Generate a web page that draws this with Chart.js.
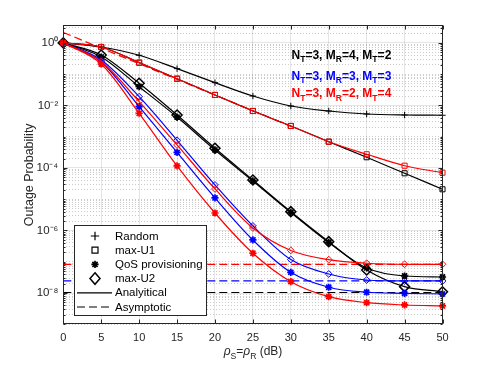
<!DOCTYPE html>
<html><head><meta charset="utf-8">
<script src="https://cdn.jsdelivr.net/npm/chart.js@4.4.0/dist/chart.umd.min.js"></script>
<style>html,body{margin:0;padding:0;background:#fff}canvas{display:block}</style>
</head><body>
<canvas id="c" width="491" height="365"></canvas>
<script>
// ---- data (SNR in dB) ----
const snr = [0, 5, 10, 15, 20, 25, 30, 35, 40, 45, 50];
const xTickVals = [0, 5, 10, 15, 20, 25, 30, 35, 40, 45, 50];
const yDecades = [0, -2, -4, -6, -8];
const yTickLabels = ['10\u2070', '10\u207B\u00B2', '10\u207B\u2074', '10\u207B\u2076', '10\u207B\u2078'];

// Random (all configurations coincide)
const randomSel = [1, 0.739, 0.401, 0.150, 0.0534, 0.0200, 0.00959, 0.00664, 0.00532, 0.00494, 0.00484];
// config A: N_T=3, M_R=4, M_T=2 (black)
const maxU1_A = [1, 0.739, 0.233, 0.0716, 0.0216, 0.00664, 0.00220, 6.92e-4, 2.20e-4, 6.76e-5, 2.08e-5];
const qos_A   = [1, 0.354, 0.0397, 0.00424, 3.76e-4, 3.84e-5, 3.77e-6, 4.14e-7, 6.33e-8, 3.51e-8, 3.26e-8];
const maxU2_A = [1, 0.410, 0.0511, 0.00494, 4.26e-4, 4.13e-5, 4.00e-6, 4.39e-7, 5.46e-8, 1.60e-8, 1.10e-8];
// config B: N_T=3, M_R=3, M_T=3 (blue)
const qos_B   = [1, 0.245, 9.12e-3, 3.13e-4, 1.10e-5, 4.98e-7, 4.61e-8, 1.53e-8, 1.06e-8, 9.82e-9, 9.33e-9];
const maxU2_B = [1, 0.284, 0.0190, 7.67e-4, 2.86e-5, 1.40e-6, 1.18e-7, 4.07e-8, 2.61e-8, 2.43e-8, 2.43e-8];
// config C: N_T=3, M_R=2, M_T=4 (red)
const maxU1_C = [1, 0.739, 0.233, 0.0716, 0.0216, 0.00664, 0.00220, 6.92e-4, 2.74e-4, 1.18e-4, 7.06e-5];
const qos_C   = [1, 0.211, 5.61e-3, 1.16e-4, 3.63e-6, 1.87e-7, 2.31e-8, 7.65e-9, 4.92e-9, 4.15e-9, 3.86e-9];
const maxU2_C = [1, 0.254, 0.0132, 5.43e-4, 2.13e-5, 1.20e-6, 2.30e-7, 1.17e-7, 8.95e-8, 8.31e-8, 8.31e-8];
// asymptotic floors
const asymFloorX = [0, 50];
const asymFloor_A = [1.04e-8, 1.04e-8];
const asymFloor_B = [2.43e-8, 2.43e-8];
const asymFloor_C = [8.31e-8, 8.31e-8];
// high-SNR asymptote (red)
const asymDiagX = [0, 30];
const asymDiag_C = [2.15, 2.15e-3];

const cfgNT = ['3', '3', '3'];
const cfgMR = ['4', '3', '2'];
const cfgMT = ['2', '3', '4'];
const cfgColors = ['#000000', '#0000ff', '#ff0000'];
const legendLabels = ['Random', 'max-U1', 'QoS provisioning', 'max-U2', 'Analyitical', 'Asymptotic'];

const BLK = '#000000', BLU = '#0000ff', RED = '#ff0000';
const FONT = '"Liberation Sans", Arial, Helvetica, sans-serif';

function series(vals, color, style, radius, extra) {
  return Object.assign({
    data: snr.map((x, i) => ({x: x, y: vals[i]})),
    borderColor: color, backgroundColor: color, borderWidth: 1.2,
    pointStyle: style, pointRadius: radius, pointBorderColor: color,
    pointBackgroundColor: 'rgba(0,0,0,0)', pointBorderWidth: 1,
    cubicInterpolationMode: 'monotone', fill: false, clip: false
  }, extra || {});
}
function asym(xs, vals, color) {
  return {
    data: xs.map((x, i) => ({x: x, y: vals[i]})),
    borderColor: color, borderWidth: 1.2, borderDash: [8, 4],
    pointRadius: 0, fill: false, tension: 0
  };
}

const starOpts = {pointBorderWidth: 1.7};
const datasets = [
  series(maxU1_C, RED, 'rect', 3.6),
  series(qos_C, RED, 'star', 3.6, starOpts),
  series(maxU2_C, RED, 'rectRot', 3.4),
  series(qos_B, BLU, 'star', 3.6, starOpts),
  series(maxU2_B, BLU, 'rectRot', 3.4),
  series(randomSel, BLK, 'cross', 3.2),
  series(maxU1_A, BLK, 'rect', 3.6),
  series(qos_A, BLK, 'star', 3.6, starOpts),
  series(maxU2_A, BLK, 'rectRot', 5, {pointBorderWidth: 1.5}),
  asym(asymDiagX, asymDiag_C, RED),
  asym(asymFloorX, asymFloor_C, RED),
  asym(asymFloorX, asymFloor_B, BLU),
  asym(asymFloorX, asymFloor_A, BLK)
];

function decadeOf(v) { return Math.round(Math.log10(v)); }
function isDecade(v) { const e = decadeOf(v); return Math.abs(v / Math.pow(10, e) - 1) < 1e-6; }
function isMajorY(v) { return isDecade(v) && yDecades.indexOf(decadeOf(v)) >= 0; }

function drawParts(ctx, parts, x, y, size, weight, color, style) {
  let cx = x;
  ctx.fillStyle = color; ctx.textBaseline = 'alphabetic'; ctx.textAlign = 'left';
  parts.forEach(p => {
    const s = p[1] ? size * 0.72 : size;
    ctx.font = (p[2] || '') + ' ' + weight + ' ' + s + 'px ' + FONT;
    ctx.fillText(p[0], cx, p[1] ? y + size * 0.3 : y);
    cx += ctx.measureText(p[0]).width;
  });
  return cx - x;
}
function partsWidth(ctx, parts, size, weight) {
  let w = 0;
  parts.forEach(p => { const s = p[1] ? size * 0.72 : size; ctx.font = (p[2] || '') + ' ' + weight + ' ' + s + 'px ' + FONT; w += ctx.measureText(p[0]).width; });
  return w;
}
function marker(ctx, style, x, y, r) {
  ctx.beginPath();
  if (style === 'plus') { ctx.moveTo(x - r, y); ctx.lineTo(x + r, y); ctx.moveTo(x, y - r); ctx.lineTo(x, y + r); }
  else if (style === 'square') { ctx.rect(x - r, y - r, 2 * r, 2 * r); }
  else if (style === 'star') {
    ctx.moveTo(x - r, y); ctx.lineTo(x + r, y); ctx.moveTo(x, y - r); ctx.lineTo(x, y + r);
    const d = r * 0.72; ctx.moveTo(x - d, y - d); ctx.lineTo(x + d, y + d); ctx.moveTo(x - d, y + d); ctx.lineTo(x + d, y - d);
  }
  else if (style === 'diamond') { ctx.moveTo(x, y - r * 1.15); ctx.lineTo(x + r, y); ctx.lineTo(x, y + r * 1.15); ctx.lineTo(x - r, y); ctx.closePath(); }
  ctx.stroke();
}

const deco = {
  id: 'deco',
  afterDraw(chart) {
    const {ctx, chartArea: a, scales: {x, y}} = chart;
    const L = Math.round(a.left) + 0.5, R = Math.round(a.right) - 0.5, T = Math.round(a.top) + 0.5, B = Math.round(a.bottom) - 0.5;
    ctx.save();
    ctx.setLineDash([]);
    ctx.strokeStyle = '#262626'; ctx.lineWidth = 1;
    ctx.beginPath();
    xTickVals.forEach(v => {
      const px = Math.round(x.getPixelForValue(v)) + 0.5;
      ctx.moveTo(px, B); ctx.lineTo(px, B - 4); ctx.moveTo(px, T); ctx.lineTo(px, T + 4);
    });
    y.ticks.forEach(t => {
      const py = Math.round(y.getPixelForValue(t.value)) + 0.5;
      const len = isMajorY(t.value) ? 4 : 2;
      ctx.moveTo(L, py); ctx.lineTo(L + len, py); ctx.moveTo(R, py); ctx.lineTo(R - len, py);
    });
    ctx.stroke();
    ctx.strokeRect(L, T, R - L, B - T);

    // legend
    const lx = 74.5, ly = 225.5, lw = 132, lh = 90;
    ctx.fillStyle = '#ffffff'; ctx.fillRect(lx, ly, lw, lh);
    ctx.strokeStyle = '#262626'; ctx.strokeRect(lx, ly, lw, lh);
    const styles = ['plus', 'square', 'star', 'diamond', 'solid', 'dashed'];
    const rows = [236, 250.2, 264.4, 278.6, 292.8, 307];
    ctx.strokeStyle = '#000';
    styles.forEach((s, i) => {
      const ry = rows[i];
      ctx.lineWidth = 1.2; ctx.setLineDash([]);
      if (s === 'plus') marker(ctx, 'plus', 95, ry, 4.2);
      else if (s === 'square') marker(ctx, 'square', 95, ry, 3);
      else if (s === 'star') { ctx.lineWidth = 1.7; marker(ctx, 'star', 95, ry, 3.6); }
      else if (s === 'diamond') { ctx.lineWidth = 1.5; marker(ctx, 'diamond', 95, ry, 5); }
      else {
        if (s === 'dashed') ctx.setLineDash([8, 4]);
        ctx.beginPath(); ctx.moveTo(77, ry); ctx.lineTo(112, ry); ctx.stroke();
      }
      ctx.setLineDash([]);
      ctx.fillStyle = '#000'; ctx.font = '11.5px ' + FONT; ctx.textBaseline = 'middle'; ctx.textAlign = 'left';
      ctx.fillText(legendLabels[i], 115, ry + 0.5);
    });

    // configuration annotations
    const annY = [58.5, 79.5, 97];
    cfgColors.forEach((c, i) => {
      const parts = [['N', 0], ['T', 1], ['=' + cfgNT[i] + ', M', 0], ['R', 1], ['=' + cfgMR[i] + ', M', 0], ['T', 1], ['=' + cfgMT[i], 0]];
      drawParts(ctx, parts, 291.5, annY[i], 12, 'bold', c);
    });

    // x-axis label
    const xl = [['\u03C1', 0, 'italic'], ['S', 1], ['=', 0], ['\u03C1', 0, 'italic'], ['R', 1], [' (dB)', 0]];
    const w = partsWidth(ctx, xl, 12, 'normal');
    drawParts(ctx, xl, 253 - w / 2, 355, 12, 'normal', '#262626');
    ctx.restore();
  }
};

new Chart(document.getElementById('c'), {
  type: 'line',
  data: {datasets: datasets},
  plugins: [deco],
  options: {
    responsive: false, animation: false, devicePixelRatio: 1,
    layout: {padding: {top: 25.3, right: 48.5, left: 0, bottom: 0}},
    plugins: {legend: {display: false}, tooltip: {enabled: false}},
    elements: {line: {borderJoinStyle: 'round'}},
    scales: {
      x: {
        type: 'linear', min: 0, max: 50,
        afterBuildTicks: s => { s.ticks = xTickVals.map(v => ({value: v})); },
        ticks: {autoSkip: false, maxRotation: 0, color: '#262626', font: {family: FONT, size: 11}, padding: 7},
        grid: {drawTicks: false, color: 'rgba(38,38,38,0.12)', lineWidth: 1},
        border: {display: false},
        afterFit: s => { s.height = 40.7; }
      },
      y: {
        type: 'logarithmic', min: 1e-9, max: 3.65,
        afterBuildTicks: s => {
          const t = [];
          for (let k = -9; k <= 0; k++) for (let m = 1; m <= 9; m++) {
            const v = m * Math.pow(10, k);
            if (v >= s.min * 0.999 && v <= s.max) t.push({value: v});
          }
          s.ticks = t;
        },
        ticks: {
          autoSkip: false, color: '#262626', font: {family: FONT, size: 11.5}, padding: 5,
          callback: v => { if (!isDecade(v)) return ''; const i = yDecades.indexOf(decadeOf(v)); return i >= 0 ? yTickLabels[i] : ''; }
        },
        grid: {
          drawTicks: false, lineWidth: 1,
          color: c => (c.tick && isMajorY(c.tick.value)) ? 'rgba(38,38,38,0.12)' : 'rgba(38,38,38,0.24)'
        },
        border: {display: false, dash: c => (c.tick && !isMajorY(c.tick.value)) ? [1, 2] : []},
        title: {display: true, text: 'Outage Probability', color: '#262626', font: {family: FONT, size: 12.5}, padding: {top: 22.5, bottom: 0}},
        afterFit: s => { s.width = 63.3; }
      }
    }
  }
});
</script>
</body></html>
